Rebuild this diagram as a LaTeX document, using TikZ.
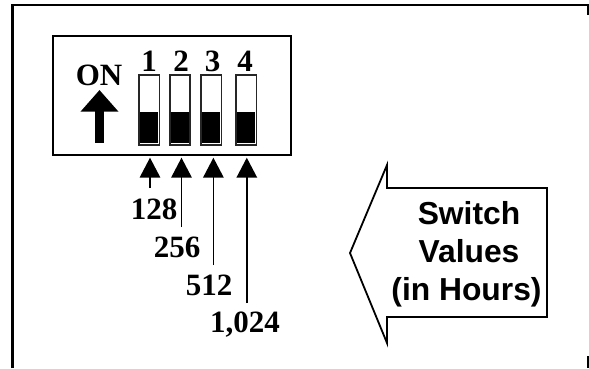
\documentclass[tikz,border=0pt]{standalone}
\usepackage{fontspec}
\setmainfont{Liberation Serif}
\setsansfont{Liberation Sans}
\usetikzlibrary{arrows.meta}
\tikzset{
  boxline/.style={draw=black, line width=2pt},
  serifnum/.style={anchor=base, inner sep=0pt, font=\bfseries\fontsize{31}{31}\selectfont},
  switchbox/.style={rectangle, draw=black!85, line width=1.7pt, fill=white, minimum width=20.5pt, minimum height=69.5pt, inner sep=0pt},
  switchfill/.style={rectangle, fill=black, minimum width=18.4pt, minimum height=31pt, inner sep=0pt},
  valarrow/.style={draw=black, line width=1.6pt, -{Triangle[length=20pt, width=20.5pt]}},
  onarrow/.style={draw=black, line width=9pt, -{Triangle[length=21.7pt, width=36.7pt]}},
  hourstext/.style={anchor=base, inner sep=0pt, font=\sffamily\bfseries\fontsize{31.8}{31.8}\selectfont}
}
\begin{document}
\begin{tikzpicture}[x=1pt, y=-1pt]
  \useasboundingbox (0, 0) rectangle (589, 368);

  % outer frame
  \draw[line width=2.5pt] (12.7, 368) -- (12.7, 5) -- (588, 5) -- (588, 15);
  \draw[line width=2.5pt] (588, 356) -- (588, 368);

  % dip switch
  \node[boxline, rectangle, minimum width=237.5pt, minimum height=119pt, inner sep=0pt] (dip) at (172.2, 95.3) {};
  \node[switchbox] (s1) at (149.2, 110) {};
  \node[switchbox] (s2) at (179.9, 110) {};
  \node[switchbox] (s3) at (211.2, 110) {};
  \node[switchbox] (s4) at (246.2, 110) {};
  \node[switchfill] at (149.2, 127.8) {};
  \node[switchfill] at (179.9, 127.8) {};
  \node[switchfill] at (211.2, 127.8) {};
  \node[switchfill] at (246.2, 127.8) {};

  \node[serifnum] (n1) at (149, 71) {1};
  \node[serifnum] (n2) at (181, 71) {2};
  \node[serifnum] (n3) at (212.7, 71) {3};
  \node[serifnum] (n4) at (245, 71) {4};

  % on marker
  \node[serifnum] (on) at (99, 85) {ON};
  \coordinate (ontail) at (99.5, 142.7);
  \coordinate (ontip) at (99.5, 90);
  \draw[onarrow] (ontail) -- (ontip);

  % values
  \node[serifnum] (v128) at (154, 219) {128};
  \node[serifnum] (v256) at (177, 257) {256};
  \node[serifnum] (v512) at (209, 295) {512};
  \node[serifnum] (v1024) at (245, 332) {1,024};

  \coordinate (a1) at (150, 188);
  \coordinate (b1) at (150, 157.7);
  \coordinate (a2) at (181.5, 227);
  \coordinate (b2) at (181.5, 157.7);
  \coordinate (a3) at (213.4, 265);
  \coordinate (b3) at (213.4, 157.7);
  \coordinate (a4) at (246.8, 303);
  \coordinate (b4) at (246.8, 157.7);
  \draw[valarrow] (a1) -- (b1);
  \draw[valarrow] (a2) -- (b2);
  \draw[valarrow] (a3) -- (b3);
  \draw[valarrow] (a4) -- (b4);

  % big left arrow
  \draw[line width=1.8pt, miter limit=10] (350, 253) -- (387, 165) -- (387, 188) -- (547, 188)
    -- (547, 317) -- (387, 317) -- (387, 343) -- cycle;
  \node[hourstext] (t1) at (469, 224) {Switch};
  \node[hourstext] (t2) at (469, 262) {Values};
  \node[hourstext] (t3) at (466.5, 300) {(in Hours)};
\end{tikzpicture}
\end{document}
